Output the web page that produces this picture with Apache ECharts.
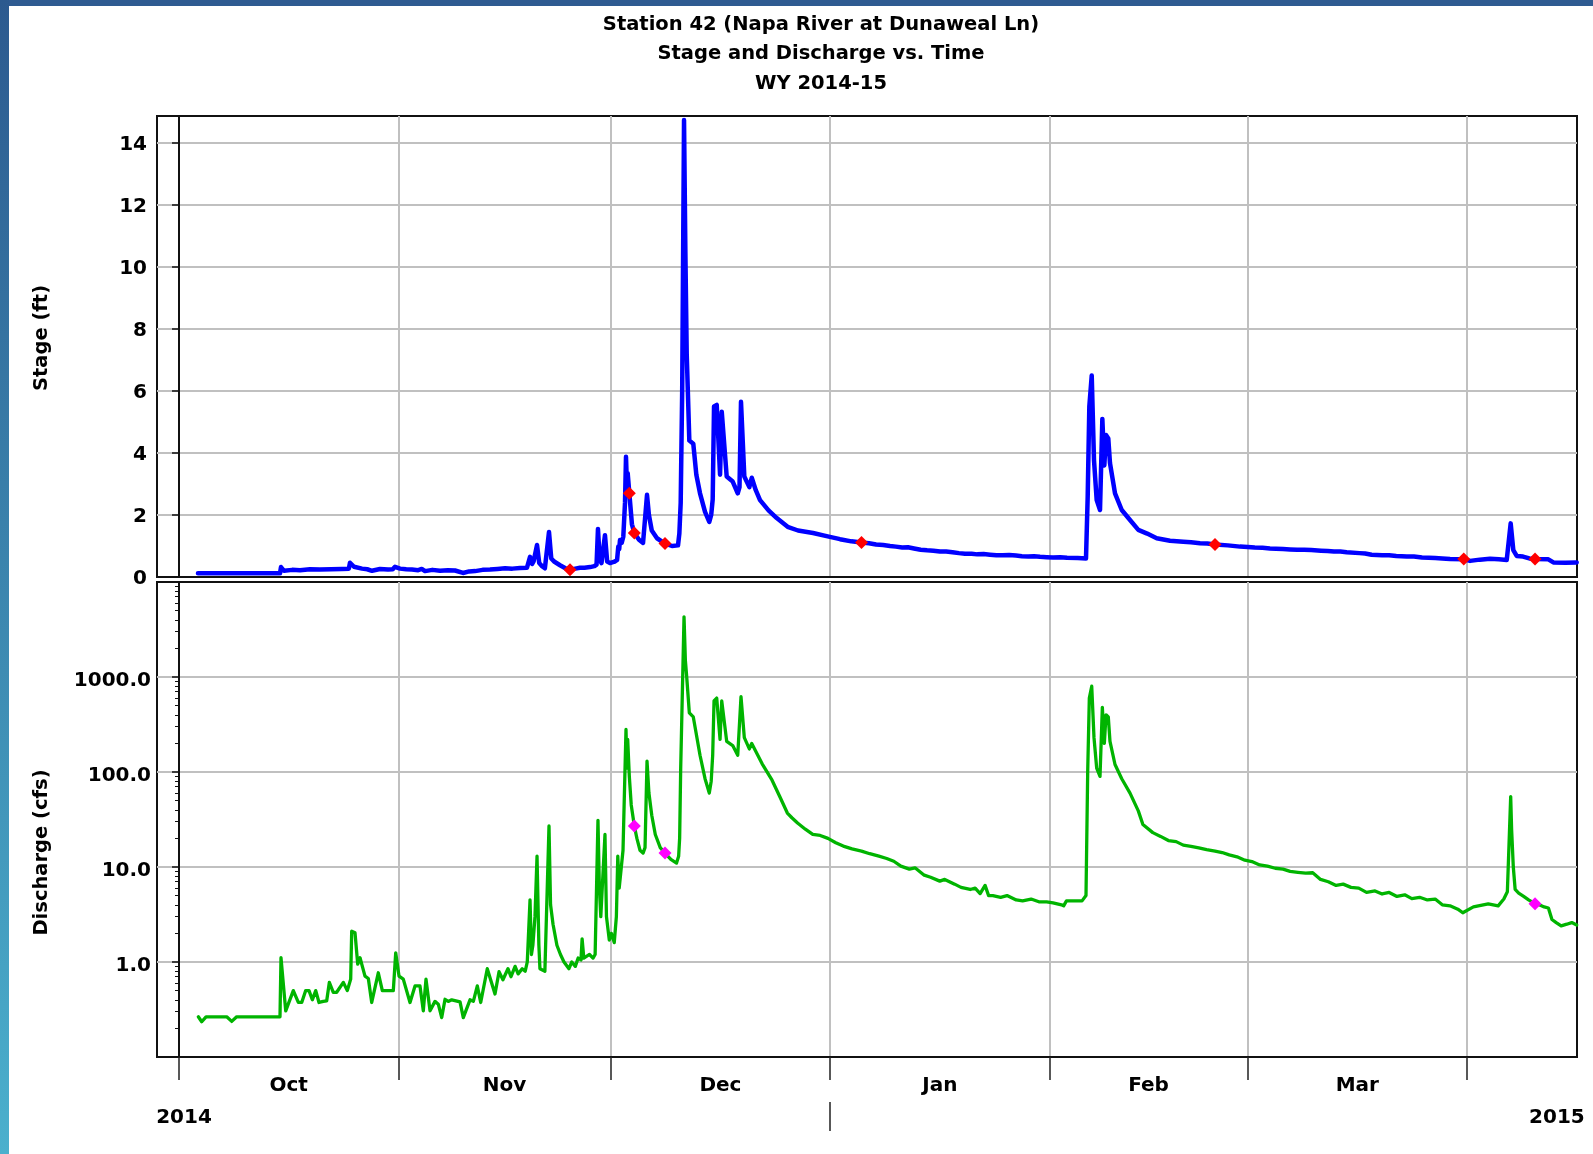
<!DOCTYPE html>
<html>
<head>
<meta charset="utf-8">
<title>Station 42 Stage and Discharge</title>
<script src="https://cdn.jsdelivr.net/npm/echarts@6/dist/echarts.min.js"></script>
<style>
    html, body { margin: 0; padding: 0; background: #fff; }
    #main { width: 1593px; height: 1154px; }
</style>
</head>
<body>
<div id="main"></div>
<script>
// x values are days since 2014-10-01
var monthNames = ['Oct', 'Nov', 'Dec', 'Jan', 'Feb', 'Mar'];
var monthStartDays = [0, 31, 61, 92, 123, 151, 182];
var monthMidDays = [15.5, 46, 76.5, 107.5, 137, 166.5];
var yearNames = ['2014', '2015'];
var yearLabelDays = [0.7, 194.7];
var yearBreakDays = [92];

var stageTicks = [0, 2, 4, 6, 8, 10, 12, 14];
var flowTicks = [1, 10, 100, 1000];
var flowMinorTicks = [0.2, 0.3, 0.4, 0.5, 0.6, 0.7, 0.8, 0.9,
    2, 3, 4, 5, 6, 7, 8, 9, 20, 30, 40, 50, 60, 70, 80, 90,
    200, 300, 400, 500, 600, 700, 800, 900, 2000, 3000, 4000, 5000, 6000, 7000, 8000, 9000];

// stage (ft)
var stageDays = [2.68, 14.27, 14.41, 14.84, 16.0, 17.1, 18.5, 19.9, 21.5, 23.0,
    24.0, 24.16, 24.73, 25.86, 26.6, 27.27, 28.4, 29.53, 30.2, 30.52,
    31.23, 32.1, 32.92, 33.8, 34.3, 34.76, 35.8, 36.88, 38.0, 39.0,
    40.13, 41.0, 41.83, 42.9, 43.95, 45.0, 46.07, 47.1, 48.18, 49.17,
    49.6, 49.9, 50.1, 50.59, 50.9, 51.3, 51.7, 52.28, 52.6, 53.0,
    53.84, 54.6, 55.25, 56.0, 56.66, 57.3, 58.08, 58.7, 59.0, 59.2,
    59.45, 59.7, 60.19, 60.5, 60.9, 61.3, 61.6, 61.9, 62.07, 62.2,
    62.31, 62.55, 62.78, 63.02, 63.16, 63.3, 63.4, 63.63, 64.0, 64.34,
    65.0, 65.57, 65.85, 66.13, 66.4, 66.8, 67.54, 68.67, 69.66, 70.51,
    70.7, 70.89, 71.1, 71.36, 71.55, 71.74, 72.11, 72.67, 73.1, 73.62,
    74.33, 74.93, 75.2, 75.41, 75.6, 75.98, 76.45, 76.69, 77.39, 78.24,
    78.95, 79.2, 79.41, 79.88, 80.59, 80.93, 81.5, 82.1, 83.3, 84.46,
    86.0, 87.47, 89.59, 91.5, 93.4, 95.0, 96.44, 97.5, 98.5, 99.5,
    100.47, 101.3, 102.2, 103.0, 103.86, 104.8, 105.7, 106.6, 107.53, 108.4,
    109.3, 110.2, 111.06, 112.0, 112.8, 113.7, 114.6, 115.5, 116.4, 117.3,
    118.27, 119.1, 120.0, 120.8, 121.66, 122.6, 123.5, 124.5, 125.48, 127.0,
    128.16, 128.4, 128.63, 128.97, 129.29, 129.67, 130.14, 130.47, 130.75, 130.99,
    131.31, 131.55, 132.26, 133.21, 134.38, 135.55, 136.8, 138.15, 140.03, 141.91,
    143.0, 144.27, 145.3, 146.39, 148.2, 149.92, 151.0, 152.0, 153.1, 154.16,
    155.0, 156.0, 157.0, 158.0, 159.0, 160.0, 161.37, 162.3, 163.2, 164.1,
    165.0, 166.8, 167.6, 168.52, 170.0, 171.0, 172.0, 173.5, 174.5, 175.64,
    176.6, 177.5, 178.5, 179.6, 181.54, 182.43, 183.8, 185.25, 186.5, 187.61,
    188.17, 188.54, 189.02, 189.91, 190.8, 191.61, 193.49, 194.2, 195.9, 197.5];
var stageFt = [0.12, 0.12, 0.32, 0.2, 0.23, 0.22, 0.25, 0.24, 0.25, 0.26,
    0.27, 0.46, 0.33, 0.27, 0.25, 0.2, 0.26, 0.24, 0.25, 0.33,
    0.27, 0.25, 0.24, 0.22, 0.26, 0.19, 0.23, 0.2, 0.22, 0.21,
    0.13, 0.18, 0.19, 0.23, 0.24, 0.26, 0.28, 0.27, 0.29, 0.3,
    0.65, 0.42, 0.5, 1.03, 0.45, 0.35, 0.28, 1.45, 0.6, 0.5,
    0.38, 0.28, 0.23, 0.27, 0.3, 0.3, 0.32, 0.35, 0.4, 1.55,
    0.55, 0.45, 1.35, 0.5, 0.45, 0.48, 0.5, 0.55, 0.98, 0.9,
    1.19, 1.1, 1.3, 2.39, 3.88, 2.9, 3.35, 2.7, 1.7, 1.42,
    1.2, 1.1, 1.15, 2.65, 2.0, 1.5, 1.25, 1.08, 1.0, 1.02,
    1.4, 2.4, 6.0, 14.74, 10.5, 7.2, 4.4, 4.3, 3.3, 2.7,
    2.1, 1.78, 2.0, 2.5, 5.5, 5.55, 3.3, 5.33, 3.24, 3.08,
    2.7, 2.9, 5.65, 3.24, 2.9, 3.2, 2.8, 2.48, 2.15, 1.9,
    1.62, 1.5, 1.42, 1.32, 1.22, 1.15, 1.11, 1.09, 1.05, 1.03,
    1.0, 0.98, 0.95, 0.96, 0.92, 0.88, 0.86, 0.85, 0.82, 0.82,
    0.8, 0.77, 0.75, 0.75, 0.73, 0.74, 0.72, 0.7, 0.7, 0.71,
    0.69, 0.67, 0.66, 0.67, 0.65, 0.64, 0.63, 0.64, 0.62, 0.61,
    0.6, 2.6, 5.5, 6.5, 3.77, 2.48, 2.16, 5.1, 3.6, 4.58,
    4.47, 3.67, 2.7, 2.16, 1.84, 1.52, 1.4, 1.25, 1.17, 1.14,
    1.12, 1.09, 1.08, 1.05, 1.02, 0.98, 0.97, 0.95, 0.94, 0.92,
    0.91, 0.9, 0.89, 0.88, 0.88, 0.87, 0.85, 0.84, 0.82, 0.82,
    0.8, 0.77, 0.76, 0.72, 0.7, 0.7, 0.68, 0.66, 0.66, 0.63,
    0.62, 0.61, 0.6, 0.58, 0.57, 0.52, 0.56, 0.59, 0.57, 0.55,
    1.73, 0.87, 0.68, 0.66, 0.6, 0.58, 0.57, 0.47, 0.46, 0.47];

// discharge (cfs)
var flowDays = [2.73, 3.21, 3.82, 6.74, 7.45, 8.15, 14.27, 14.41, 15.08, 16.15, 16.86, 17.34, 17.9, 18.37, 18.84, 19.32, 19.78, 20.39, 20.87, 21.24,
    21.8, 22.28, 23.22, 23.78, 24.26, 24.4, 24.87, 25.25, 25.58, 25.82, 26.28, 26.75, 27.23, 28.16, 28.73, 30.28, 30.62, 31.09, 31.69, 32.64,
    33.35, 34.05, 34.52, 34.9, 35.47, 36.17, 36.64, 37.12, 37.59, 38.05, 38.53, 39.71, 40.17, 41.12, 41.59, 42.15, 42.63, 43.56, 44.65, 45.22,
    45.77, 46.48, 46.91, 47.49, 47.92, 48.49, 48.92, 49.21, 49.6, 49.8, 50.0, 50.3, 50.59, 50.85, 51.0, 51.7, 52.28, 52.5, 52.85, 53.4,
    53.9, 54.4, 55.1, 55.5, 56.0, 56.4, 56.8, 56.96, 57.2, 58.0, 58.5, 58.8, 59.2, 59.4, 59.6, 60.19, 60.4, 60.8, 61.1, 61.5,
    61.8, 62.0, 62.2, 62.5, 62.74, 63.16, 63.3, 63.4, 63.63, 63.9, 64.34, 64.7, 65.14, 65.57, 65.85, 66.13, 66.4, 66.8, 67.3, 68.0,
    68.67, 69.5, 70.3, 70.6, 70.74, 70.89, 71.36, 71.55, 71.74, 72.11, 72.67, 73.62, 74.33, 74.93, 75.2, 75.41, 75.6, 75.98, 76.45, 76.69,
    77.39, 78.24, 78.95, 79.41, 79.88, 80.59, 80.93,
    82.4, 83.8, 84.95, 85.96, 86.6, 87.4, 88.5, 89.55, 90.6, 91.7,
    92.8, 93.86, 95.1, 96.44, 97.6, 98.9, 100.0, 101.0, 102.0, 103.2,
    104.0, 105.3, 106.2, 107.5, 108.2, 109.6, 110.5, 111.8, 112.5, 113.2,
    113.9, 114.4, 115.0, 116.1, 117.0, 118.3, 119.2, 120.4, 121.5, 122.6,
    123.5, 124.7, 125.0, 125.4, 126.5, 127.6, 128.16, 128.4, 128.63, 128.97,
    129.29, 129.67, 130.14, 130.47, 130.75, 130.99, 131.31, 131.55, 132.26, 133.21,
    134.38, 135.55, 136.2, 137.6, 138.7, 139.8, 140.9, 141.9, 143.0, 144.1,
    145.2, 146.4, 147.4, 148.4, 149.5, 150.6, 151.6, 152.7, 153.8, 154.9,
    156.0, 157.0, 158.1, 159.2, 160.2, 161.3, 162.4, 163.5, 164.5, 165.6,
    166.7, 167.8, 169.0, 170.0, 171.0, 172.1, 173.2, 174.2, 175.3, 176.4,
    177.5, 178.5, 179.6, 180.7, 181.4, 182.9, 185.0, 186.4, 187.2, 187.7,
    188.17, 188.3, 188.54, 188.8, 189.3, 190.0, 190.7, 191.61, 192.2, 192.9,
    193.5, 194.0, 194.6, 195.3, 196.1, 196.8, 197.5];
var flowCfs = [0.265, 0.235, 0.265, 0.265, 0.237, 0.265, 0.265, 1.11, 0.306, 0.5, 0.375, 0.375, 0.5, 0.5, 0.4, 0.5, 0.375, 0.385, 0.39, 0.61,
    0.48, 0.48, 0.61, 0.5, 0.66, 2.11, 2.03, 0.95, 1.11, 0.95, 0.71, 0.67, 0.375, 0.77, 0.5, 0.5, 1.25, 0.71, 0.66, 0.375,
    0.56, 0.56, 0.306, 0.66, 0.306, 0.385, 0.36, 0.26, 0.405, 0.385, 0.4, 0.38, 0.26, 0.4, 0.385, 0.56, 0.375, 0.85, 0.46, 0.79,
    0.65, 0.85, 0.7, 0.9, 0.75, 0.85, 0.8, 1.0, 4.5, 1.2, 1.5, 3.0, 13, 1.5, 0.85, 0.8, 27, 4, 2.5, 1.5,
    1.2, 1.0, 0.85, 1.0, 0.9, 1.1, 1.05, 1.75, 1.1, 1.2, 1.1, 1.2, 31, 6, 3, 22, 3, 1.7, 2.0, 1.6,
    3, 13, 6, 10, 15, 280, 110, 220, 90, 45, 27, 20, 15, 14, 16, 130, 60, 35, 22, 16,
    14, 12, 11, 13, 20, 110, 4300, 1500, 1000, 420, 380, 150, 85, 60, 80, 150, 560, 600, 220, 560,
    210, 190, 150, 620, 230, 175, 200,
    122, 82, 54, 37, 33, 29, 25, 22, 21.5, 20,
    18, 16.6, 15.5, 14.7, 13.8, 13, 12.3, 11.5, 10.2, 9.5,
    9.8, 8.2, 7.8, 7.1, 7.4, 6.6, 6.1, 5.8, 6.0, 5.25,
    6.4, 5.0, 5.0, 4.8, 5.0, 4.5, 4.4, 4.6, 4.3, 4.3,
    4.2, 4.0, 3.9, 4.4, 4.4, 4.4, 5.0, 100, 600, 800,
    230, 110, 90, 480, 200, 400, 380, 210, 120, 85,
    60, 39, 28, 23, 21, 19, 18.5, 17, 16.5, 15.9,
    15.2, 14.7, 14.2, 13.4, 12.8, 11.8, 11.4, 10.5, 10.2, 9.7,
    9.5, 9.0, 8.8, 8.6, 8.7, 7.4, 7.0, 6.4, 6.6, 6.1,
    6.0, 5.4, 5.6, 5.2, 5.4, 4.9, 5.1, 4.65, 4.8, 4.5,
    4.6, 4.0, 3.9, 3.6, 3.3, 3.8, 4.1, 3.9, 4.6, 5.5,
    55, 25, 10, 5.8, 5.3, 4.9, 4.5, 4.1, 4.0, 3.8,
    3.7, 2.8, 2.6, 2.4, 2.5, 2.6, 2.45];

// field measurements
var stageMeasDays = [55.25, 63.63, 64.34, 68.67, 96.44, 146.39, 181.54, 191.61];
var stageMeasFt = [0.23, 2.7, 1.42, 1.08, 1.11, 1.05, 0.58, 0.58];
var flowMeasDays = [64.34, 68.67, 191.61];
var flowMeasCfs = [27, 14, 4.1];

function pairs(days, vals) {
    return days.map(function (d, i) { return [d, vals[i]]; });
}
function nameAt(days, names) {
    return function (v) {
        for (var i = 0; i < days.length; i++) {
            if (Math.abs(days[i] - v) < 0.01) return names[i];
        }
        return '';
    };
}

var xMin = -3.11;
var xMax = 197.54;

var fontFam = 'DejaVu Sans';
var labelFont = { fontFamily: fontFam, fontWeight: 'bold', fontSize: 20, color: '#000' };
var gridLine = { show: true, lineStyle: { color: '#c0c0c0', width: 2 } };
var blackLine = { show: true, lineStyle: { color: '#111', width: 2 } };

var myChart = echarts.init(document.getElementById('main'));
var option = {
    animation: false,
    backgroundColor: '#fff',
    title: {
        text: 'Station 42 (Napa River at Dunaweal Ln)\nStage and Discharge vs. Time\nWY 2014-15',
        left: 816,
        top: 5,
        textAlign: 'center',
        textStyle: { fontFamily: fontFam, fontWeight: 'bold', fontSize: 19.5, lineHeight: 29.5, color: '#000' }
    },
    graphic: [
        { type: 'rect', left: 0, top: 0, shape: { width: 1593, height: 6 }, style: { fill: '#2f5b91' } },
        {
            type: 'rect', left: 0, top: 0, shape: { width: 9, height: 1154 },
            style: {
                fill: new echarts.graphic.LinearGradient(0, 0, 0, 1, [
                    { offset: 0, color: '#2c5a8f' },
                    { offset: 1, color: '#4bb0cd' }
                ])
            }
        }
    ],
    grid: [
        { left: 157, right: 16, top: 116, height: 461, show: true, borderColor: '#111', borderWidth: 2, backgroundColor: '#fff' },
        { left: 157, right: 16, top: 582, height: 475, show: true, borderColor: '#111', borderWidth: 2, backgroundColor: '#fff' }
    ],
    xAxis: [
        {
            type: 'value', gridIndex: 0, min: xMin, max: xMax,
            axisLine: blackLine,
            axisTick: { show: false, customValues: monthStartDays },
            axisLabel: { show: false, customValues: monthStartDays },
            splitLine: gridLine
        },
        {
            type: 'value', gridIndex: 1, min: xMin, max: xMax,
            axisLine: blackLine,
            axisTick: { show: true, customValues: monthStartDays, length: 23, lineStyle: { color: '#222', width: 1.5 } },
            axisLabel: Object.assign({ customValues: monthMidDays, margin: 19, formatter: nameAt(monthMidDays, monthNames) }, labelFont),
            splitLine: gridLine
        },
        {
            type: 'value', gridIndex: 1, min: xMin, max: xMax, position: 'bottom', offset: 45,
            axisLine: { show: false },
            axisTick: { show: true, customValues: yearBreakDays, length: 29, lineStyle: { color: '#222', width: 1.5 } },
            axisLabel: Object.assign({ customValues: yearLabelDays, margin: 6, formatter: nameAt(yearLabelDays, yearNames) }, labelFont),
            splitLine: { show: false }
        }
    ],
    yAxis: [
        {
            type: 'value', gridIndex: 0, min: 0, max: 14.87, interval: 2,
            name: 'Stage (ft)', nameLocation: 'middle', nameGap: 105,
            nameTextStyle: { fontFamily: fontFam, fontWeight: 'bold', fontSize: 19.5, color: '#000', padding: [0, 0, 0, 17] },
            axisLine: blackLine,
            axisTick: { show: true, customValues: stageTicks, length: 7, lineStyle: { color: '#111', width: 1.5 } },
            axisLabel: Object.assign({ customValues: stageTicks, margin: 10, verticalAlign: 'top', lineHeight: 3 }, labelFont),
            splitLine: gridLine
        },
        {
            type: 'log', logBase: 10, gridIndex: 1, min: 0.1, max: 10000, position: 'left',
            name: 'Discharge (cfs)', nameLocation: 'middle', nameGap: 105,
            nameTextStyle: { fontFamily: fontFam, fontWeight: 'bold', fontSize: 19.5, color: '#000', padding: [0, 66, 0, 0] },
            axisLine: blackLine,
            axisTick: { show: true, customValues: flowTicks, length: 7, lineStyle: { color: '#111', width: 1.5 } },
            axisLabel: Object.assign({
                customValues: flowTicks, margin: 6, verticalAlign: 'top', lineHeight: 8,
                formatter: function (v) { return Number(v).toFixed(1); }
            }, labelFont),
            splitLine: gridLine
        },
        {
            type: 'log', logBase: 10, gridIndex: 1, min: 0.1, max: 10000, position: 'left',
            axisLine: { show: false },
            axisTick: { show: true, customValues: flowMinorTicks, length: 4, lineStyle: { color: '#111', width: 1 } },
            axisLabel: { show: false },
            splitLine: { show: false }
        }
    ],
    series: [
        {
            name: 'Stage', type: 'line', xAxisIndex: 0, yAxisIndex: 0,
            data: pairs(stageDays, stageFt),
            showSymbol: false, clip: true,
            lineStyle: { color: '#0000ff', width: 4.5, join: 'round', cap: 'round' },
            itemStyle: { color: '#0000ff' }
        },
        {
            name: 'Discharge', type: 'line', xAxisIndex: 1, yAxisIndex: 1,
            data: pairs(flowDays, flowCfs),
            showSymbol: false, clip: true,
            lineStyle: { color: '#00b400', width: 3.3, join: 'round', cap: 'round' },
            itemStyle: { color: '#00b400' }
        },
        {
            name: 'Stage measurement', type: 'scatter', xAxisIndex: 0, yAxisIndex: 0,
            data: pairs(stageMeasDays, stageMeasFt),
            symbol: 'diamond', symbolSize: 13, z: 5,
            itemStyle: { color: '#ff0000', opacity: 1 }
        },
        {
            name: 'Discharge measurement', type: 'scatter', xAxisIndex: 1, yAxisIndex: 1,
            data: pairs(flowMeasDays, flowMeasCfs),
            symbol: 'diamond', symbolSize: 13, z: 5,
            itemStyle: { color: '#ff00ff', opacity: 1 }
        }
    ]
};
myChart.setOption(option);
</script>
</body>
</html>
